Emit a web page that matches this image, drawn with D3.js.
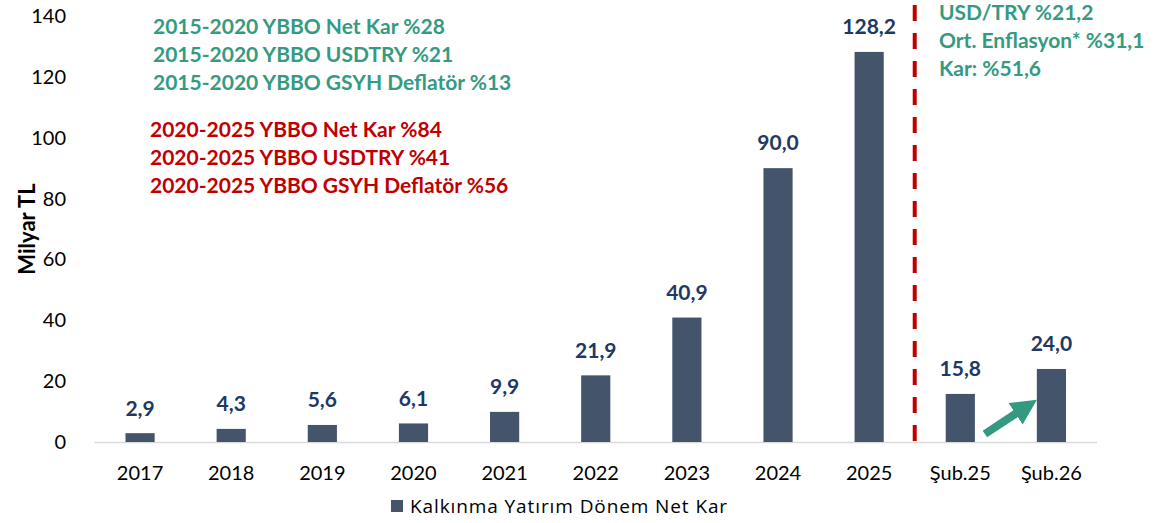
<!DOCTYPE html>
<html><head><meta charset="utf-8">
<script src="https://cdn.jsdelivr.net/npm/d3@7"></script>
<style>body{margin:0;background:#fff}svg{display:block}</style>
</head><body>
<svg id="c" width="1155" height="523"></svg>
<script>
const categories = ["2017","2018","2019","2020","2021","2022","2023","2024","2025","Şub.25","Şub.26"];
const values = [2.9,4.3,5.6,6.1,9.9,21.9,40.9,90.0,128.2,15.8,24.0];
const yTicks = [0,20,40,60,80,100,120,140];
const greenNotes = ["2015-2020 YBBO Net Kar %28","2015-2020 YBBO USDTRY %21","2015-2020 YBBO GSYH Deflatör %13"];
const redNotes = ["2020-2025 YBBO Net Kar %84","2020-2025 YBBO USDTRY %41","2020-2025 YBBO GSYH Deflatör %56"];
const rightNotes = ["USD/TRY %21,2","Ort. Enflasyon* %31,1","Kar: %51,6"];
const seriesName = "Kalkınma Yatırım Dönem Net Kar";

const svg = d3.select("#c");
const font = "Lato, 'Open Sans', sans-serif";
const x = d3.scaleBand().domain(categories).range([94.5, 1097]).paddingInner(0.68).paddingOuter(0.34);
const y = d3.scaleLinear().domain([0,140]).range([442, 16]);

// y tick labels
svg.append("g").selectAll("text").data(yTicks).join("text")
  .attr("x", 66).attr("y", d => y(d)).attr("dy","0.35em")
  .attr("text-anchor","end").attr("font-family",font).attr("font-size",20).attr("fill","#000")
  .text(d => d);

// axis line
svg.append("line").attr("x1",94.5).attr("x2",1097).attr("y1",y(0)+0.5).attr("y2",y(0)+0.5)
  .attr("stroke","#d9d9d9").attr("stroke-width",1.5);

// bars
svg.append("g").selectAll("rect").data(values).join("rect")
  .attr("x",(d,i)=>x(categories[i])).attr("width",x.bandwidth())
  .attr("y",d=>y(d)).attr("height",d=>y(0)-y(d))
  .attr("fill","#44546A");

// value labels
svg.append("g").selectAll("text").data(values).join("text")
  .attr("x",(d,i)=>x(categories[i])+x.bandwidth()/2).attr("y",d=>y(d)-25).attr("dy","0.35em")
  .attr("text-anchor","middle").attr("font-family",font).attr("font-weight","bold").attr("font-size",21)
  .attr("fill","#203864").text(d => d.toFixed(1).replace(".",","));

// x tick labels
svg.append("g").selectAll("text").data(categories).join("text")
  .attr("x",d=>x(d)+x.bandwidth()/2).attr("y",473).attr("dy","0.35em")
  .attr("text-anchor","middle").attr("font-family",font).attr("font-size",20).attr("fill","#000")
  .text(d=>d);

// y axis title
svg.append("text").attr("transform","translate(27,229) rotate(-90)").attr("dy","0.35em")
  .attr("text-anchor","middle").attr("font-family",font).attr("font-weight","bold").attr("font-size",22)
  .attr("fill","#000").text("Milyar TL");

// dashed separator
const sepX = x(categories[8]) + x.bandwidth() + (x.step()*x.paddingInner())/2;
svg.append("line").attr("x1",sepX).attr("x2",sepX).attr("y1",5).attr("y2",y(0))
  .attr("stroke","#C00000").attr("stroke-width",4).attr("stroke-dasharray","16,12");

// notes
function notes(arr, x0, y0, color){
  svg.append("g").selectAll("text").data(arr).join("text")
    .attr("x",x0).attr("y",(d,i)=>y0+i*28).attr("dy","0.35em")
    .attr("font-family",font).attr("font-weight","bold").attr("font-size",21).attr("fill",color).text(d=>d);
}
notes(greenNotes,153,27,"#359A82");
notes(redNotes,150,130,"#C00000");
notes(rightNotes,939,13,"#359A82");

// arrow
const ax1 = x("Şub.25")+x.bandwidth()+10, ay1 = 434, ax2 = x("Şub.26")-2, ay2 = 401;
svg.append("defs").append("marker").attr("id","ah").attr("viewBox","0 0 10 10")
  .attr("refX",2).attr("refY",5).attr("markerWidth",3.2).attr("markerHeight",3.4).attr("orient","auto")
  .append("path").attr("d","M0,0 L10,5 L0,10 z").attr("fill","#339980");
const ang = Math.atan2(ay2-ay1, ax2-ax1);
svg.append("line").attr("x1",ax1).attr("y1",ay1)
  .attr("x2",ax2-18*Math.cos(ang)).attr("y2",ay2-18*Math.sin(ang))
  .attr("stroke","#339980").attr("stroke-width",8).attr("marker-end","url(#ah)");

// legend
svg.append("rect").attr("x",391).attr("y",500).attr("width",12).attr("height",12).attr("fill","#44546A");
svg.append("text").attr("x",410).attr("y",506).attr("dy","0.35em").attr("font-family","'Open Sans', sans-serif")
  .attr("font-size",19).attr("letter-spacing","0.9px").attr("fill","#000").text(seriesName);
</script>
</body></html>
